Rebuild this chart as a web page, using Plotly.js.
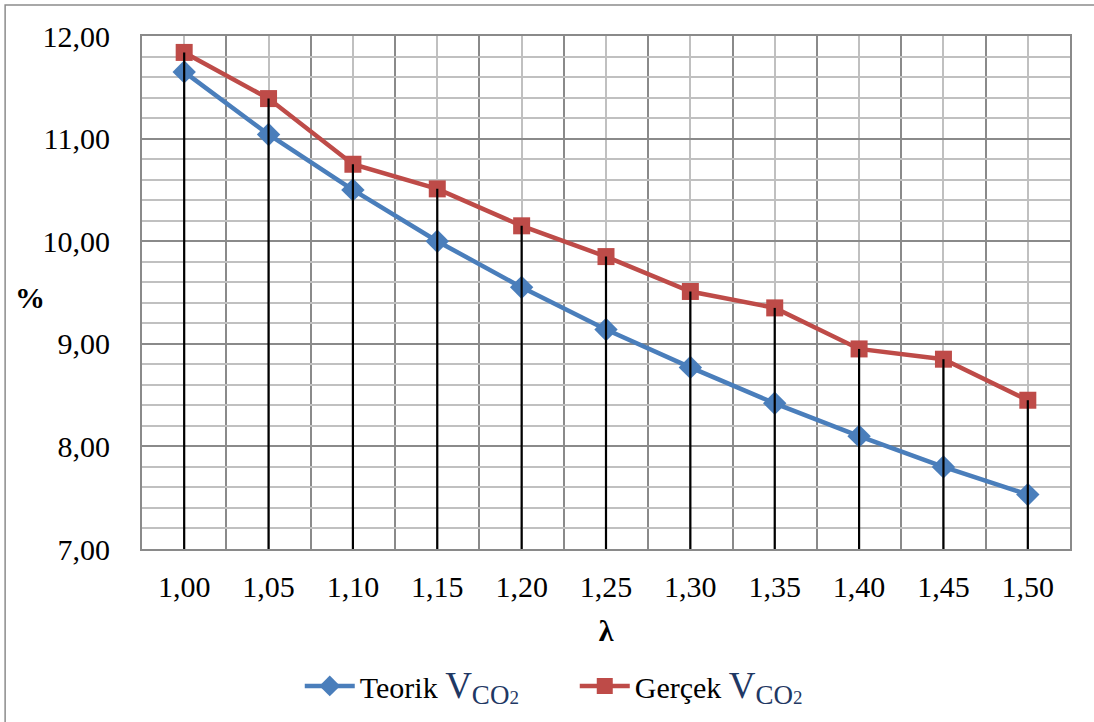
<!DOCTYPE html>
<html>
<head>
<meta charset="utf-8">
<script src="https://cdn.plot.ly/plotly-3.0.1.min.js"></script>
<style>
html,body{margin:0;padding:0;background:#fff;}
#chart{width:1094px;height:722px;}
</style>
</head>
<body>
<div id="chart"></div>
<script>
// Data
const lambdaVals = [1.00, 1.05, 1.10, 1.15, 1.20, 1.25, 1.30, 1.35, 1.40, 1.45, 1.50];
const teorik = [11.65, 11.04, 10.50, 10.00, 9.55, 9.14, 8.77, 8.42, 8.10, 7.80, 7.53];
const gercek = [11.84, 11.39, 10.75, 10.51, 10.15, 9.85, 9.51, 9.35, 8.95, 8.85, 8.45];
const seriesNames = ['Teorik', 'Gerçek'];
const yMin = 7, yMax = 12;

const FONT = 'Liberation Serif';
const FS = 30;
const subColor = '#1F3864';
function legendName(base) {
  return base + ' <span style="font-size:37px;color:' + subColor + '">V</span>' +
         '<sub><span style="color:' + subColor + ';font-size:27px">CO</span>' +
         '<span style="color:' + subColor + ';font-size:19px">2</span></sub>';
}

// drop lines from the highest point down to the axis minimum
const dropX = [], dropY = [];
lambdaVals.forEach((x, i) => {
  dropX.push(x, x, null);
  dropY.push(yMin, Math.max(teorik[i], gercek[i]), null);
});

const traces = [
  {
    x: lambdaVals, y: teorik, name: legendName(seriesNames[0]),
    type: 'scatter', mode: 'lines+markers',
    line: {color: '#4A7EBB', width: 4.5},
    marker: {symbol: 'diamond', size: 18, color: '#4A7EBB'}
  },
  {
    x: lambdaVals, y: gercek, name: legendName(seriesNames[1]),
    type: 'scatter', mode: 'lines+markers',
    line: {color: '#BE4B48', width: 4.5},
    marker: {symbol: 'square', size: 17, color: '#BE4B48'}
  },
  {
    x: dropX, y: dropY, type: 'scatter', mode: 'lines',
    line: {color: '#000000', width: 2.2}, showlegend: false, hoverinfo: 'skip'
  }
];

const layout = {
  width: 1094, height: 722,
  margin: {l: 142, r: 24, t: 36, b: 173, autoexpand: false},
  paper_bgcolor: '#ffffff', plot_bgcolor: '#ffffff',
  separators: ',.',
  font: {family: FONT, size: FS, color: '#000'},
  showlegend: true,
  legend: {
    orientation: 'h', x: 0.170, xanchor: 'left', y: -0.267, yanchor: 'middle',
    font: {family: FONT, size: FS, color: '#000'},
    itemwidth: 50, entrywidth: 210, entrywidthmode: 'pixels',
    tracegroupgap: 0, bgcolor: 'rgba(0,0,0,0)'
  },
  xaxis: {
    range: [0.975, 1.525],
    tickmode: 'array', tickvals: lambdaVals,
    tickformat: '.2f',
    ticks: '', ticklabelstandoff: 10,
    showgrid: true, gridcolor: '#C0C0C0', gridwidth: 2,
    minor: {tick0: 0.975, dtick: 0.05, showgrid: true, gridcolor: '#8A8A8A', gridwidth: 2, ticks: ''},
    showline: true, linecolor: '#8A8A8A', linewidth: 2, mirror: true,
    zeroline: false,
    tickfont: {family: FONT, size: FS, color: '#000'},
    title: {text: '<b>λ</b>', font: {family: FONT, size: FS, color: '#000'}, standoff: 18}
  },
  yaxis: {
    range: [yMin, yMax],
    dtick: 1, tick0: 7,
    tickformat: '.2f',
    ticks: '', ticklabelstandoff: 24,
    showgrid: true, gridcolor: '#8A8A8A', gridwidth: 2,
    minor: {dtick: 0.2, showgrid: true, gridcolor: '#C0C0C0', gridwidth: 2, ticks: ''},
    showline: true, linecolor: '#8A8A8A', linewidth: 2, mirror: true,
    zeroline: false,
    tickfont: {family: FONT, size: FS, color: '#000'}
  },
  annotations: [
    {text: '<b>%</b>', xref: 'paper', yref: 'paper', x: -0.1206, y: 0.491,
     xanchor: 'center', yanchor: 'middle', showarrow: false,
     font: {family: FONT, size: FS, color: '#000'}}
  ],
  shapes: [
    {type: 'rect', xref: 'paper', yref: 'paper', x0: -0.1475, x1: 1.04, y0: -0.36, y1: 1.0604,
     line: {color: '#8C8C8C', width: 1.5}, fillcolor: 'rgba(0,0,0,0)', layer: 'below'}
  ]
};

const cfg = {displayModeBar: false, staticPlot: true};
Plotly.newPlot('chart', traces, layout, cfg);
if (document.fonts && document.fonts.ready) {
  document.fonts.ready.then(() => Plotly.react('chart', traces, layout, cfg));
}
</script>
</body>
</html>
